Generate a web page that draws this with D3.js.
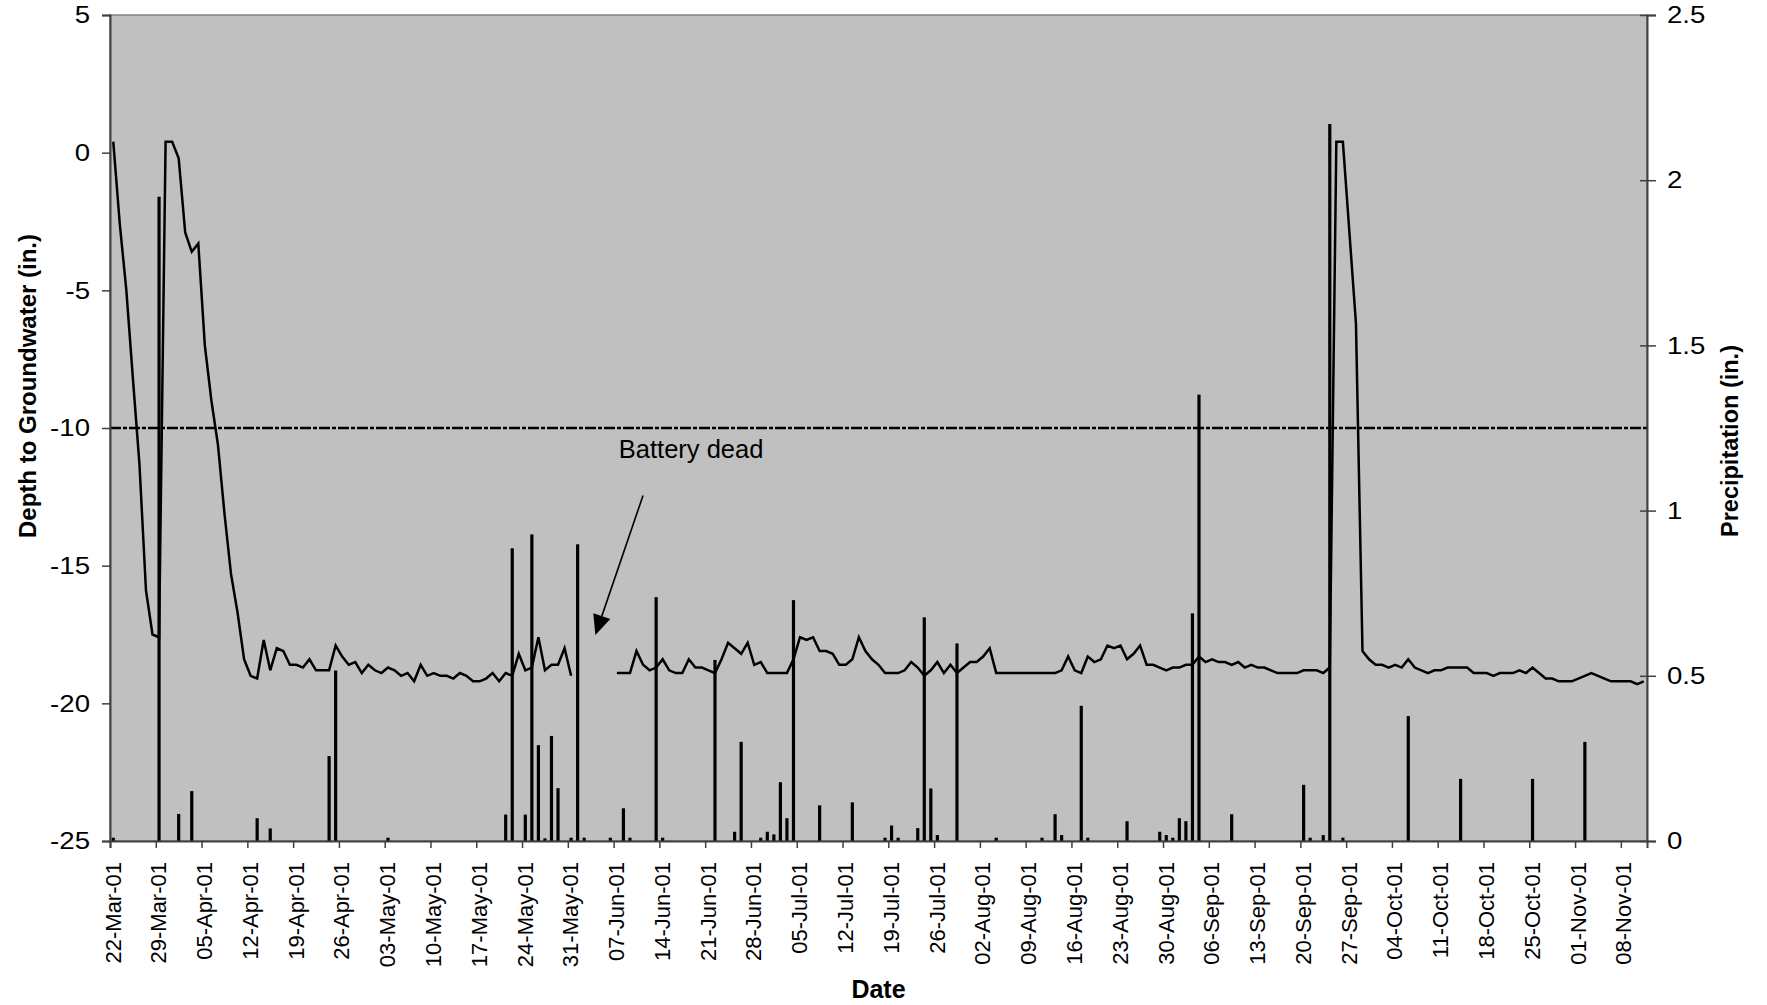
<!DOCTYPE html>
<html>
<head>
<meta charset="utf-8">
<script src="https://cdn.jsdelivr.net/npm/d3@7"></script>
<style>
  html, body { margin: 0; padding: 0; background: #ffffff; }
  svg { display: block; font-family: "Liberation Sans", Arial, Helvetica, sans-serif; }
</style>
</head>
<body>
<svg id="chart" width="1767" height="1005"></svg>
<script>
// Daily depth to groundwater (in.), one value per day from 22-Mar-01; null = no record (battery dead)
const gwStart = "2001-03-22";
const gwDepth = [
  0.4, -2.6, -5.0, -8.2, -11.3, -15.9, -17.5, -17.6, 0.4, 0.4,
  -0.2, -2.9, -3.6, -3.3, -7.0, -9.0, -10.6, -13.1, -15.3, -16.7,
  -18.4, -19.0, -19.1, -17.7, -18.8, -18.0, -18.1, -18.6, -18.6, -18.7,
  -18.4, -18.8, -18.8, -18.8, -17.9, -18.3, -18.6, -18.5, -18.9, -18.6,
  -18.8, -18.9, -18.7, -18.8, -19.0, -18.9, -19.2, -18.6, -19.0, -18.9,
  -19.0, -19.0, -19.1, -18.9, -19.0, -19.2, -19.2, -19.1, -18.9, -19.2,
  -18.9, -19.0, -18.2, -18.8, -18.7, -17.6, -18.8, -18.6, -18.6, -18.0,
  -19.0, null, null, null, null, null, null, -18.9, -18.9, -18.9,
  -18.1, -18.6, -18.8, -18.7, -18.4, -18.8, -18.9, -18.9, -18.4, -18.7,
  -18.7, -18.8, -18.9, -18.4, -17.8, -18.0, -18.2, -17.8, -18.6, -18.5,
  -18.9, -18.9, -18.9, -18.9, -18.4, -17.6, -17.7, -17.6, -18.1, -18.1,
  -18.2, -18.6, -18.6, -18.4, -17.6, -18.1, -18.4, -18.6, -18.9, -18.9,
  -18.9, -18.8, -18.5, -18.7, -19.0, -18.8, -18.5, -18.9, -18.6, -18.9,
  -18.7, -18.5, -18.5, -18.3, -18.0, -18.9, -18.9, -18.9, -18.9, -18.9,
  -18.9, -18.9, -18.9, -18.9, -18.9, -18.8, -18.3, -18.8, -18.9, -18.3,
  -18.5, -18.4, -17.9, -18.0, -17.9, -18.4, -18.2, -17.9, -18.6, -18.6,
  -18.7, -18.8, -18.7, -18.7, -18.6, -18.6, -18.3, -18.5, -18.4, -18.5,
  -18.5, -18.6, -18.5, -18.7, -18.6, -18.7, -18.7, -18.8, -18.9, -18.9,
  -18.9, -18.9, -18.8, -18.8, -18.8, -18.9, -18.7, 0.4, 0.4, -2.9,
  -6.2, -18.1, -18.4, -18.6, -18.6, -18.7, -18.6, -18.7, -18.4, -18.7,
  -18.8, -18.9, -18.8, -18.8, -18.7, -18.7, -18.7, -18.7, -18.9, -18.9,
  -18.9, -19.0, -18.9, -18.9, -18.9, -18.8, -18.9, -18.7, -18.9, -19.1,
  -19.1, -19.2, -19.2, -19.2, -19.1, -19.0, -18.9, -19.0, -19.1, -19.2,
  -19.2, -19.2, -19.2, -19.3, -19.2
];

// Daily precipitation (in.)
const precipDates = [
  "2001-03-22", "2001-03-29", "2001-04-01", "2001-04-03", "2001-04-13", "2001-04-15",
  "2001-04-24", "2001-04-25", "2001-05-03", "2001-05-21", "2001-05-22", "2001-05-24",
  "2001-05-25", "2001-05-26", "2001-05-27", "2001-05-28", "2001-05-29", "2001-05-31",
  "2001-06-01", "2001-06-02", "2001-06-06", "2001-06-08", "2001-06-09", "2001-06-13",
  "2001-06-14", "2001-06-22", "2001-06-25", "2001-06-26", "2001-06-29", "2001-06-30",
  "2001-07-01", "2001-07-02", "2001-07-03", "2001-07-04", "2001-07-08", "2001-07-13",
  "2001-07-18", "2001-07-19", "2001-07-20", "2001-07-23", "2001-07-24", "2001-07-25",
  "2001-07-26", "2001-07-29", "2001-08-04", "2001-08-11", "2001-08-13", "2001-08-14",
  "2001-08-17", "2001-08-18", "2001-08-24", "2001-08-29", "2001-08-30", "2001-08-31",
  "2001-09-01", "2001-09-02", "2001-09-03", "2001-09-04", "2001-09-09", "2001-09-20",
  "2001-09-21", "2001-09-23", "2001-09-24", "2001-09-26", "2001-10-06", "2001-10-14",
  "2001-10-25", "2001-11-02"
];
const precipValues = [
  0.01, 1.95, 0.082, 0.151, 0.069, 0.038,
  0.257, 0.516, 0.01, 0.08, 0.886, 0.08,
  0.928, 0.29, 0.008, 0.318, 0.16, 0.01,
  0.898, 0.01, 0.01, 0.099, 0.01, 0.738,
  0.01, 0.548, 0.028, 0.30, 0.01, 0.028,
  0.02, 0.178, 0.069, 0.729, 0.108, 0.117,
  0.01, 0.047, 0.01, 0.039, 0.677, 0.159,
  0.018, 0.598, 0.01, 0.01, 0.081, 0.018,
  0.409, 0.01, 0.06, 0.028, 0.018, 0.01,
  0.069, 0.06, 0.689, 1.351, 0.081, 0.17,
  0.01, 0.018, 2.17, 0.01, 0.378, 0.188,
  0.188, 0.30
];

// Axis ticks
const depthTicks = [-25, -20, -15, -10, -5, 0, 5];
const precipTicks = [0, 0.5, 1, 1.5, 2, 2.5];
const thresholdDepth = -10;

const parse = d3.utcParse("%Y-%m-%d");
const start = parse(gwStart);
const end = parse("2001-11-12");

const margin = { left: 110, right: 1647, top: 15, bottom: 841 };
const fontFamily = "Liberation Sans, Arial, sans-serif";

const svg = d3.select("#chart");

const x = d3.scaleUtc().domain([start, end]).range([margin.left, margin.right]);
const yL = d3.scaleLinear().domain([-25, 5]).range([margin.bottom, margin.top]);
const yR = d3.scaleLinear().domain([0, 2.5]).range([margin.bottom, margin.top]);
const mid = d => x(d3.utcHour.offset(d, 12));

// plot background
svg.append("rect")
  .attr("x", margin.left).attr("y", margin.top)
  .attr("width", margin.right - margin.left)
  .attr("height", margin.bottom - margin.top)
  .attr("fill", "#c0c0c0")
  .attr("stroke", "#808080")
  .attr("stroke-width", 1.5);

// threshold line at -10 in.
svg.append("line")
  .attr("x1", margin.left).attr("x2", margin.right)
  .attr("y1", yL(thresholdDepth)).attr("y2", yL(thresholdDepth))
  .attr("stroke", "#000").attr("stroke-width", 2.6)
  .attr("stroke-dasharray", "11,2,4,2");

// precipitation bars
const precip = precipDates.map((s, i) => ({ date: parse(s), v: precipValues[i] }));
svg.append("g").selectAll("rect").data(precip).join("rect")
  .attr("x", d => mid(d.date) - 1.6)
  .attr("width", 3.2)
  .attr("y", d => yR(d.v))
  .attr("height", d => yR(0) - yR(d.v))
  .attr("fill", "#000");

// groundwater line
const gw = gwDepth.map((v, i) => ({ date: d3.utcDay.offset(start, i), v }));
const line = d3.line()
  .defined(d => d.v !== null)
  .x(d => mid(d.date))
  .y(d => yL(d.v));
svg.append("path")
  .datum(gw)
  .attr("d", line)
  .attr("fill", "none")
  .attr("stroke", "#000")
  .attr("stroke-width", 2.5)
  .attr("stroke-linejoin", "miter");

// axes
const axisColor = "#404040";
const tickFont = 24;
const stretch = 1.15;

const xAxis = d3.axisBottom(x)
  .tickValues(d3.utcDay.range(start, d3.utcDay.offset(end, -1), 7))
  .tickFormat(d3.utcFormat("%d-%b-%y"))
  .tickSize(7);
const gx = svg.append("g").attr("transform", `translate(0,${margin.bottom})`).call(xAxis);
gx.select(".domain").attr("stroke", axisColor).attr("stroke-width", 2);
gx.selectAll(".tick line").attr("stroke", axisColor).attr("stroke-width", 1.5);
gx.selectAll(".tick text")
  .attr("transform", "rotate(-90)")
  .attr("text-anchor", "end")
  .attr("x", -21).attr("y", 10).attr("dy", 0)
  .attr("font-size", 22).attr("fill", "#000")
  .attr("font-family", fontFamily);

const yAxisL = d3.axisLeft(yL).tickValues(depthTicks).tickSize(8)
  .tickFormat(d => String(d));
const gyl = svg.append("g").attr("transform", `translate(${margin.left},0)`).call(yAxisL);
gyl.select(".domain").attr("stroke", axisColor).attr("stroke-width", 2);
gyl.selectAll(".tick line").attr("stroke", axisColor).attr("stroke-width", 1.5);
gyl.selectAll(".tick text")
  .attr("x", 0)
  .attr("transform", `translate(-20,0) scale(${stretch},1)`)
  .attr("font-size", tickFont).attr("fill", "#000")
  .attr("font-family", fontFamily);

const yAxisR = d3.axisRight(yR).tickValues(precipTicks).tickSize(9)
  .tickFormat(d => String(d));
const gyr = svg.append("g").attr("transform", `translate(${margin.right},0)`).call(yAxisR);
gyr.select(".domain").attr("stroke", axisColor).attr("stroke-width", 2);
gyr.selectAll(".tick line").attr("x1", -7).attr("stroke", axisColor).attr("stroke-width", 1.5);
gyr.selectAll(".tick text")
  .attr("x", 0)
  .attr("transform", `translate(20,0) scale(${stretch},1)`)
  .attr("font-size", tickFont).attr("fill", "#000")
  .attr("font-family", fontFamily);

// axis titles
svg.append("text")
  .attr("transform", "translate(35.5,386) rotate(-90)")
  .attr("text-anchor", "middle")
  .attr("font-size", 24).attr("font-weight", "bold")
  .text("Depth to Groundwater (in.)");

svg.append("text")
  .attr("transform", "translate(1738,441) rotate(-90)")
  .attr("text-anchor", "middle")
  .attr("font-size", 23.5).attr("font-weight", "bold")
  .text("Precipitation (in.)");

svg.append("text")
  .attr("x", (margin.left + margin.right) / 2).attr("y", 998)
  .attr("text-anchor", "middle")
  .attr("font-size", 25).attr("font-weight", "bold")
  .text("Date");

// "Battery dead" annotation with arrow pointing into the data gap
const at = (dateStr, hours) => x(d3.utcHour.offset(parse(dateStr), hours));
const labelX = at("2001-06-07", 19), labelY = yL(-11.1);
svg.append("text")
  .attr("x", labelX).attr("y", labelY)
  .attr("font-size", 25.5)
  .text("Battery dead");

const tail = [at("2001-06-11", 12), yL(-12.45)];
const tip = [at("2001-06-04", 5), yL(-17.52)];
const ang = Math.atan2(tip[1] - tail[1], tip[0] - tail[0]);
const headLen = 20, headHalf = 9;
const baseC = [tip[0] - headLen * Math.cos(ang), tip[1] - headLen * Math.sin(ang)];
svg.append("line")
  .attr("x1", tail[0]).attr("y1", tail[1])
  .attr("x2", baseC[0]).attr("y2", baseC[1])
  .attr("stroke", "#000").attr("stroke-width", 1.6);
const px = -Math.sin(ang), py = Math.cos(ang);
svg.append("path")
  .attr("d", d3.line()([
    tip,
    [baseC[0] + headHalf * px, baseC[1] + headHalf * py],
    [baseC[0] - headHalf * px, baseC[1] - headHalf * py]
  ]) + "Z")
  .attr("fill", "#000");
</script>
</body>
</html>
